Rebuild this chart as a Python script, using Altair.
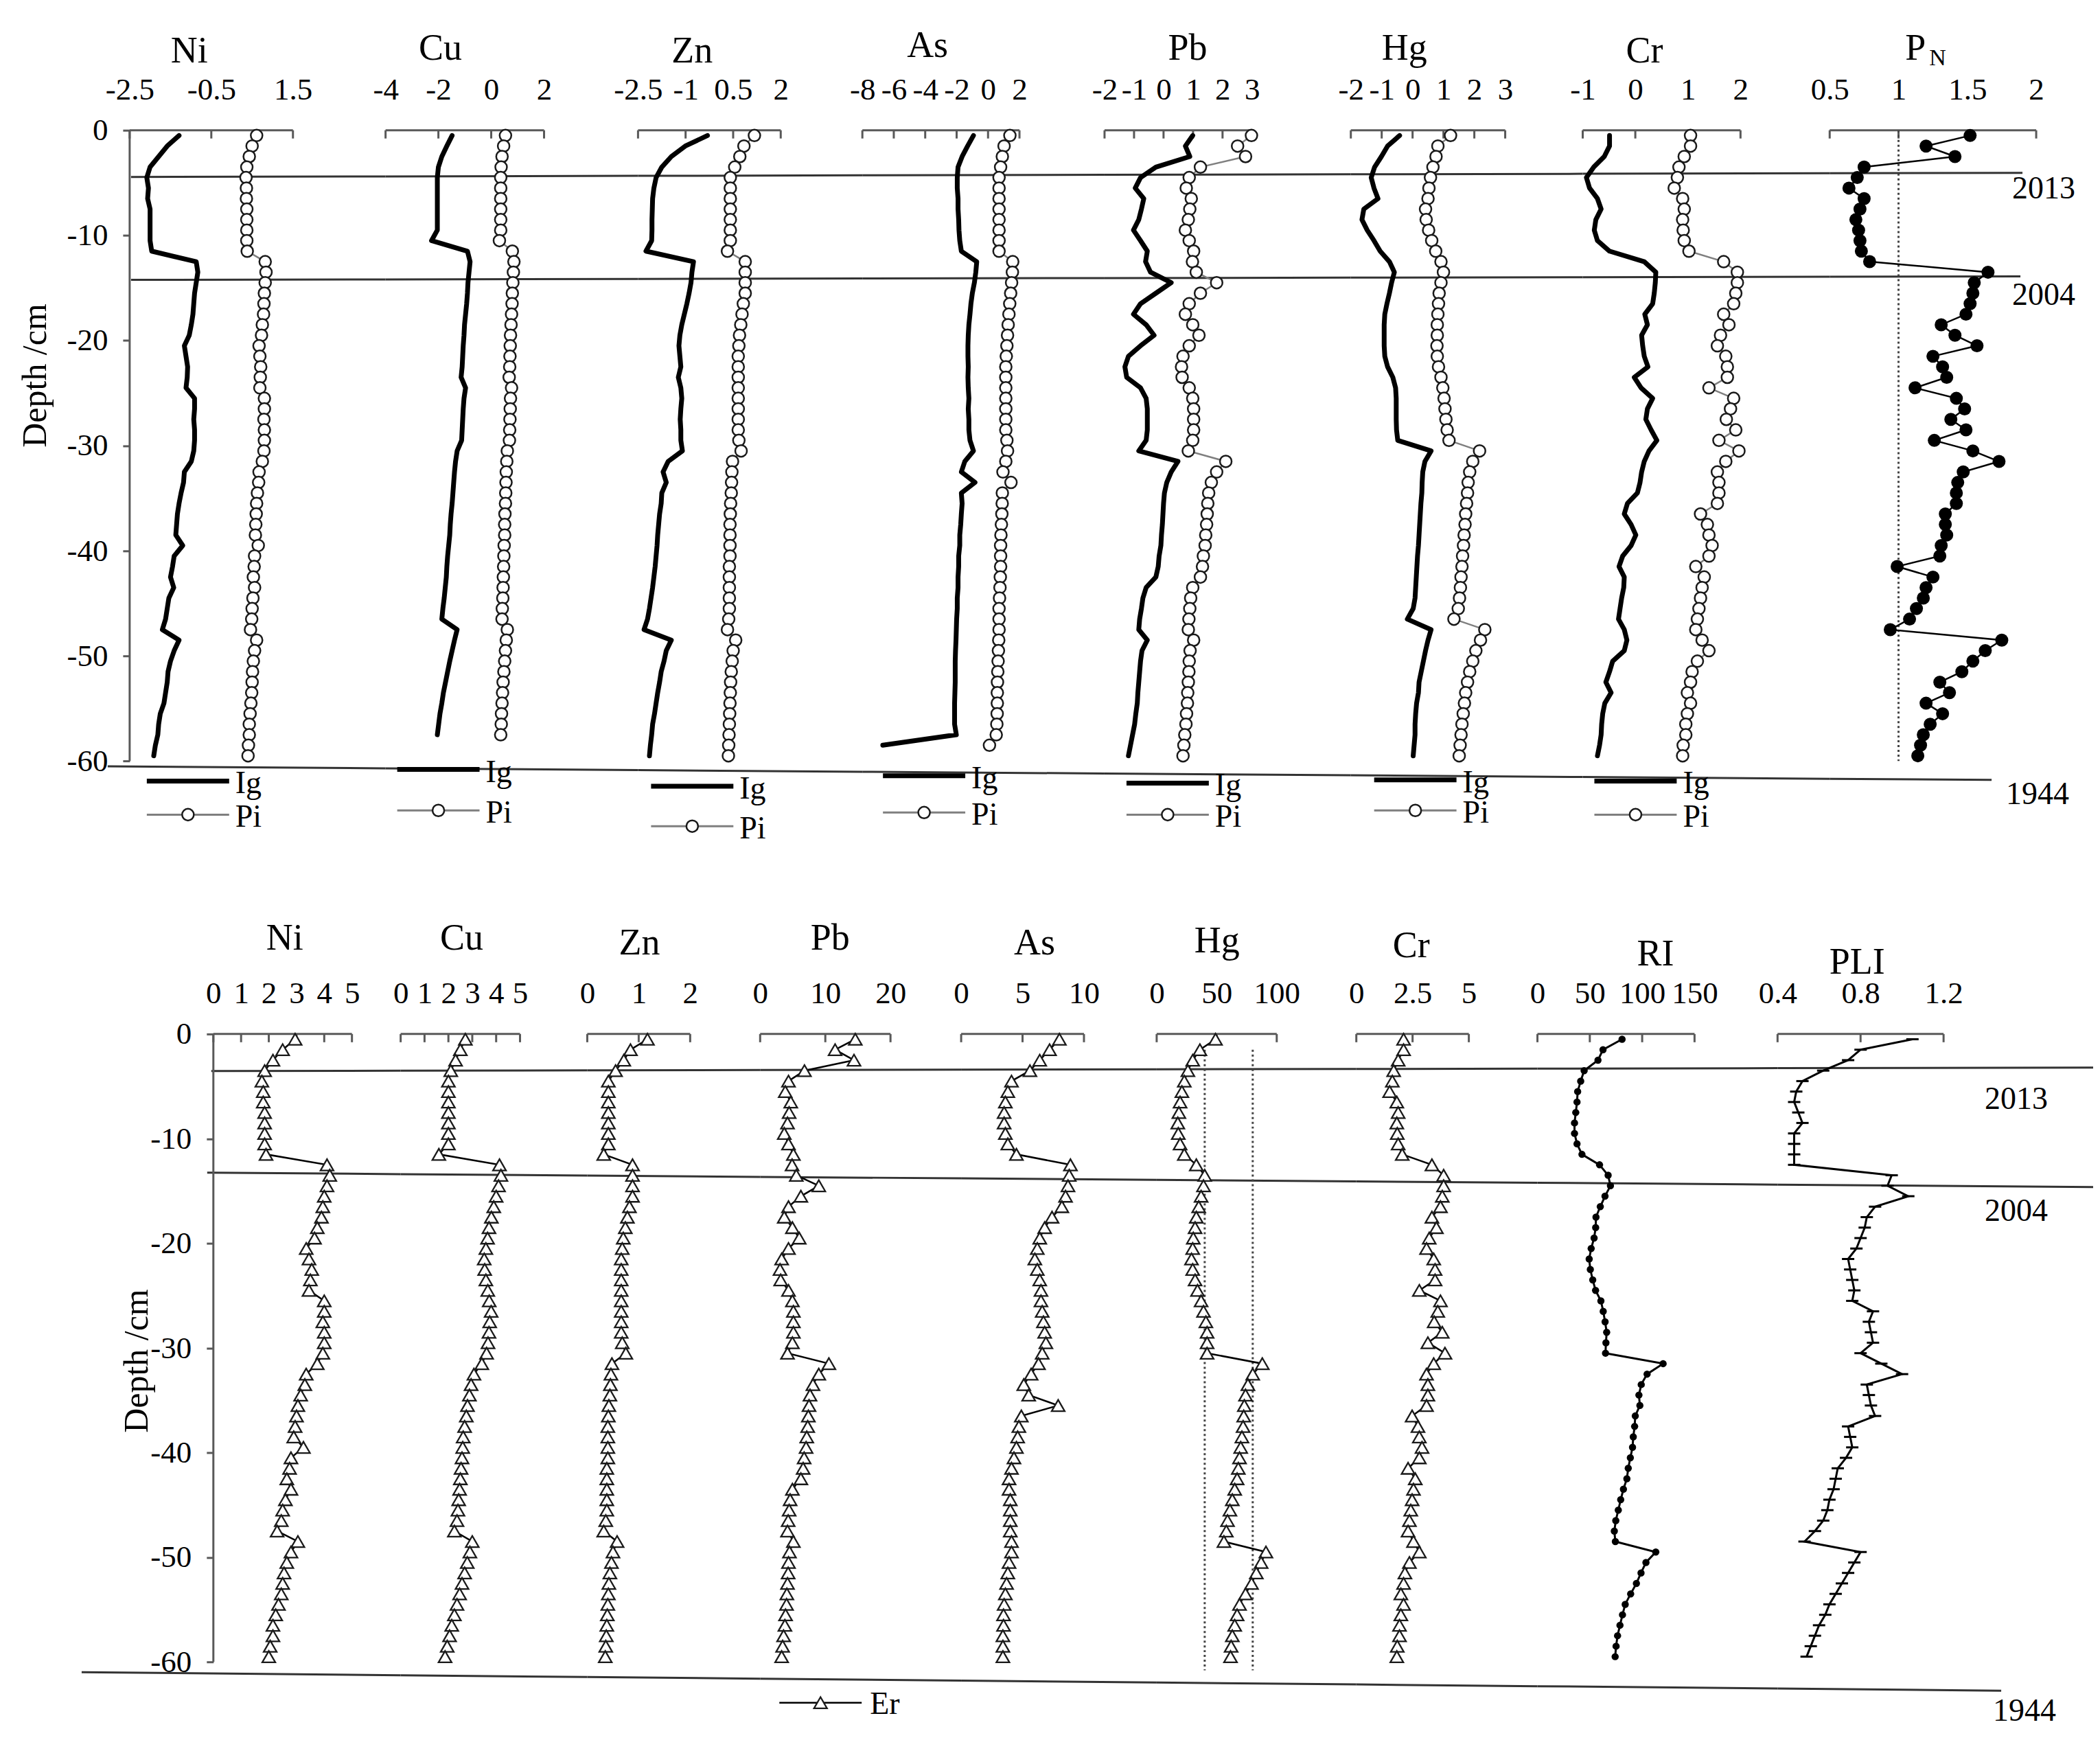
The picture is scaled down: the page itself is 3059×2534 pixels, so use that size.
import altair as alt
import pandas as pd

FONT = "Liberation Serif"
AXIS_COLOR = "#595959"
REF_COLOR = "#333333"
PI_LINE = "#7f7f7f"
MARK_STROKE = "#1a1a1a"

# ---------------- data: top row (Ig = geoaccumulation index, Pi = single pollution index) -------------
NI_IG = [-1.29, -1.58, -1.79, -2.00, -2.08, -2.04, -2.06, -2.00, -2.00, -2.00,
         -2.00, -1.96, -0.87, -0.83, -0.87, -0.91, -0.93, -0.95, -0.99, -1.04,
         -1.16, -1.12, -1.08, -1.09, -1.12, -0.91, -0.91, -0.93, -0.91, -0.91,
         -0.93, -0.99, -1.16, -1.18, -1.24, -1.29, -1.33, -1.35, -1.37, -1.20,
         -1.41, -1.45, -1.50, -1.42, -1.54, -1.58, -1.62, -1.70, -1.29, -1.41,
         -1.50, -1.56, -1.58, -1.62, -1.66, -1.75, -1.79, -1.81, -1.87, -1.91]
NI_PI = [0.61, 0.50, 0.43, 0.37, 0.35, 0.36, 0.36, 0.37, 0.37, 0.37,
         0.37, 0.38, 0.82, 0.84, 0.82, 0.80, 0.79, 0.78, 0.75, 0.73,
         0.67, 0.69, 0.71, 0.70, 0.69, 0.80, 0.80, 0.79, 0.80, 0.80,
         0.79, 0.75, 0.67, 0.66, 0.63, 0.61, 0.60, 0.59, 0.58, 0.65,
         0.56, 0.55, 0.53, 0.56, 0.52, 0.50, 0.49, 0.46, 0.61, 0.56,
         0.53, 0.51, 0.50, 0.49, 0.47, 0.45, 0.43, 0.43, 0.41, 0.40]
CU_IG = [-1.48, -1.68, -1.87, -2.00, -2.04, -2.04, -2.04, -2.04, -2.04, -2.04,
         -2.26, -0.90, -0.80, -0.84, -0.88, -0.90, -0.93, -0.97, -1.01, -1.03,
         -1.06, -1.08, -1.10, -1.14, -0.97, -1.03, -1.06, -1.08, -1.10, -1.12,
         -1.29, -1.35, -1.39, -1.42, -1.45, -1.48, -1.52, -1.55, -1.57, -1.61,
         -1.65, -1.68, -1.70, -1.74, -1.78, -1.83, -1.87, -1.29, -1.39, -1.48,
         -1.57, -1.65, -1.73, -1.81, -1.87, -1.94, -1.99, -2.04]
CU_PI = [0.54, 0.47, 0.41, 0.375, 0.36, 0.36, 0.36, 0.36, 0.36, 0.36,
         0.31, 0.80, 0.86, 0.84, 0.82, 0.80, 0.79, 0.77, 0.75, 0.73,
         0.72, 0.71, 0.70, 0.68, 0.77, 0.73, 0.72, 0.71, 0.70, 0.69,
         0.61, 0.59, 0.57, 0.56, 0.55, 0.54, 0.52, 0.51, 0.51, 0.49,
         0.48, 0.47, 0.46, 0.45, 0.44, 0.42, 0.41, 0.61, 0.57, 0.54,
         0.51, 0.48, 0.45, 0.43, 0.41, 0.39, 0.38, 0.36]
ZN_IG = [-0.31, -1.01, -1.45, -1.75, -1.93, -2.00, -2.04, -2.05, -2.06, -2.06,
         -2.07, -2.25, -0.75, -0.80, -0.83, -0.89, -0.96, -1.04, -1.12, -1.18,
         -1.21, -1.18, -1.15, -1.23, -1.15, -1.12, -1.15, -1.17, -1.15, -1.15,
         -1.10, -1.55, -1.71, -1.61, -1.75, -1.77, -1.82, -1.85, -1.88, -1.90,
         -1.93, -1.96, -2.00, -2.04, -2.09, -2.14, -2.20, -2.31, -1.45, -1.61,
         -1.68, -1.77, -1.82, -1.88, -1.93, -1.98, -2.04, -2.07, -2.11, -2.14]
ZN_PI = [1.17, 0.84, 0.71, 0.55, 0.41, 0.41, 0.41, 0.41, 0.41, 0.41,
         0.41, 0.32, 0.88, 0.88, 0.88, 0.88, 0.82, 0.78, 0.74, 0.70,
         0.68, 0.66, 0.66, 0.66, 0.66, 0.66, 0.66, 0.66, 0.66, 0.68,
         0.75, 0.48, 0.46, 0.45, 0.44, 0.42, 0.41, 0.40, 0.40, 0.40,
         0.40, 0.38, 0.38, 0.38, 0.38, 0.38, 0.36, 0.32, 0.58, 0.50,
         0.47, 0.44, 0.42, 0.41, 0.40, 0.39, 0.38, 0.37, 0.36, 0.35]
AS_IG = [-0.93, -1.30, -1.65, -1.91, -1.96, -1.96, -1.91, -1.91, -1.87, -1.85,
         -1.80, -1.70, -0.72, -0.78, -0.87, -1.00, -1.09, -1.15, -1.22, -1.26,
         -1.28, -1.28, -1.26, -1.28, -1.26, -1.22, -1.26, -1.22, -1.22, -1.15,
         -0.93, -1.48, -1.70, -0.83, -1.70, -1.65, -1.70, -1.74, -1.80, -1.80,
         -1.87, -1.87, -1.91, -1.91, -1.96, -1.96, -2.00, -2.02, -2.04, -2.07,
         -2.09, -2.09, -2.09, -2.11, -2.13, -2.13, -2.13, -2.02, -6.70]
AS_PI = [1.39, 1.02, 0.91, 0.80, 0.70, 0.70, 0.70, 0.70, 0.70, 0.70,
         0.70, 0.70, 1.57, 1.55, 1.50, 1.44, 1.38, 1.33, 1.28, 1.24,
         1.20, 1.16, 1.13, 1.13, 1.13, 1.13, 1.13, 1.13, 1.13, 1.20,
         1.24, 1.13, 0.95, 1.46, 0.91, 0.90, 0.88, 0.85, 0.82, 0.80,
         0.80, 0.80, 0.78, 0.76, 0.73, 0.70, 0.70, 0.70, 0.68, 0.66,
         0.64, 0.62, 0.60, 0.59, 0.59, 0.58, 0.56, 0.52, 0.09]
PB_IG = [0.99, 0.74, 0.89, -0.26, -0.78, -0.96, -0.67, -0.75, -0.84, -1.02,
         -0.78, -0.55, -0.61, -0.44, 0.26, -0.26, -0.78, -1.02, -0.59, -0.32,
         -0.78, -1.19, -1.31, -1.25, -0.78, -0.59, -0.55, -0.55, -0.55, -0.59,
         -0.84, 0.49, 0.26, 0.11, 0.03, 0.00, -0.02, -0.04, -0.07, -0.09,
         -0.15, -0.18, -0.26, -0.59, -0.70, -0.75, -0.81, -0.84, -0.55, -0.73,
         -0.78, -0.81, -0.84, -0.87, -0.89, -0.94, -0.98, -1.05, -1.12, -1.19]
PB_PI = [2.98, 2.51, 2.78, 1.25, 0.87, 0.77, 0.94, 0.89, 0.84, 0.74,
         0.87, 1.02, 0.98, 1.11, 1.80, 1.25, 0.87, 0.74, 0.99, 1.20,
         0.87, 0.66, 0.61, 0.63, 0.87, 0.99, 1.02, 1.02, 1.02, 0.99,
         0.84, 2.11, 1.80, 1.62, 1.53, 1.50, 1.48, 1.46, 1.43, 1.41,
         1.35, 1.32, 1.25, 0.99, 0.92, 0.89, 0.86, 0.84, 1.02, 0.90,
         0.87, 0.86, 0.84, 0.82, 0.81, 0.78, 0.76, 0.72, 0.69, 0.66]
HG_IG = [-0.42, -0.81, -1.01, -1.23, -1.34, -1.25, -1.12, -1.58, -1.64, -1.47,
         -1.25, -1.05, -0.75, -0.59, -0.68, -0.75, -0.83, -0.90, -0.92, -0.92,
         -0.92, -0.90, -0.81, -0.64, -0.55, -0.53, -0.53, -0.53, -0.52, -0.48,
         0.60, 0.40, 0.33, 0.31, 0.30, 0.27, 0.25, 0.23, 0.21, 0.19,
         0.16, 0.14, 0.12, 0.10, 0.08, 0.02, -0.17, 0.60, 0.50, 0.42,
         0.35, 0.28, 0.21, 0.19, 0.13, 0.10, 0.08, 0.08, 0.05, 0.02]
HG_PI = [1.23, 0.82, 0.76, 0.66, 0.58, 0.53, 0.50, 0.42, 0.44, 0.52,
         0.62, 0.75, 0.92, 1.00, 0.92, 0.86, 0.84, 0.82, 0.80, 0.80,
         0.79, 0.80, 0.84, 0.92, 0.98, 1.02, 1.05, 1.08, 1.12, 1.18,
         2.17, 1.95, 1.85, 1.80, 1.78, 1.75, 1.72, 1.70, 1.67, 1.65,
         1.62, 1.60, 1.57, 1.55, 1.52, 1.48, 1.34, 2.34, 2.20, 2.05,
         1.95, 1.85, 1.78, 1.72, 1.68, 1.64, 1.60, 1.57, 1.54, 1.51]
CR_IG = [-0.49, -0.49, -0.59, -0.79, -0.93, -0.87, -0.72, -0.65, -0.75, -0.78,
         -0.72, -0.49, 0.17, 0.39, 0.38, 0.36, 0.33, 0.18, 0.23, 0.12,
         0.14, 0.17, 0.24, -0.02, 0.11, 0.33, 0.23, 0.20, 0.30, 0.41,
         0.26, 0.17, 0.12, 0.09, 0.04, -0.15, -0.21, -0.08, 0.01, -0.08,
         -0.24, -0.31, -0.21, -0.22, -0.26, -0.29, -0.32, -0.21, -0.16, -0.21,
         -0.43, -0.49, -0.56, -0.46, -0.58, -0.62, -0.64, -0.65, -0.68, -0.72]
CR_PI = [1.05, 1.05, 0.93, 0.83, 0.80, 0.74, 0.90, 0.93, 0.90, 0.91,
         0.93, 1.02, 1.68, 1.94, 1.94, 1.91, 1.87, 1.68, 1.78, 1.62,
         1.56, 1.72, 1.75, 1.75, 1.40, 1.87, 1.81, 1.73, 1.91, 1.59,
         1.97, 1.72, 1.56, 1.59, 1.59, 1.56, 1.24, 1.37, 1.40, 1.46,
         1.40, 1.15, 1.31, 1.27, 1.24, 1.21, 1.18, 1.15, 1.27, 1.40,
         1.18, 1.08, 1.05, 0.99, 1.05, 0.99, 0.96, 0.96, 0.91, 0.90]
PN = [1.52, 1.20, 1.41, 0.75, 0.70, 0.64, 0.75, 0.72, 0.69, 0.71,
      0.72, 0.73, 0.79, 1.65, 1.55, 1.54, 1.52, 1.49, 1.31, 1.41,
      1.57, 1.25, 1.32, 1.35, 1.12, 1.42, 1.48, 1.38, 1.49, 1.26,
      1.54, 1.73, 1.47, 1.43, 1.42, 1.42, 1.34, 1.34, 1.35, 1.31,
      1.30, 0.99, 1.25, 1.20, 1.18, 1.13, 1.08, 0.94, 1.75, 1.63,
      1.54, 1.46, 1.30, 1.37, 1.20, 1.32, 1.23, 1.18, 1.16, 1.14]

# ---------------- data: bottom row (Er = potential ecological risk factor, RI, PLI) -------------
NI_ER = [2.95, 2.50, 2.15, 1.85, 1.75, 1.80, 1.80, 1.85, 1.85, 1.85,
         1.85, 1.90, 4.10, 4.20, 4.10, 4.00, 3.95, 3.90, 3.75, 3.65,
         3.35, 3.45, 3.55, 3.50, 3.45, 4.00, 4.00, 3.95, 4.00, 4.00,
         3.95, 3.75, 3.35, 3.30, 3.15, 3.05, 3.00, 2.95, 2.90, 3.25,
         2.80, 2.75, 2.65, 2.80, 2.60, 2.50, 2.45, 2.30, 3.05, 2.80,
         2.65, 2.55, 2.50, 2.45, 2.35, 2.25, 2.15, 2.15, 2.05, 2.00]
CU_ER = [2.71, 2.50, 2.30, 2.10, 2.00, 2.00, 2.00, 2.00, 2.00, 2.00,
         2.00, 1.60, 4.14, 4.20, 4.10, 4.00, 3.90, 3.80, 3.70, 3.64,
         3.57, 3.50, 3.52, 3.57, 3.65, 3.71, 3.79, 3.73, 3.70, 3.66,
         3.60, 3.40, 3.07, 2.95, 2.88, 2.80, 2.75, 2.68, 2.62, 2.60,
         2.57, 2.53, 2.50, 2.47, 2.43, 2.40, 2.36, 2.25, 3.00, 2.90,
         2.79, 2.68, 2.57, 2.47, 2.36, 2.25, 2.14, 2.05, 1.95, 1.86]
ZN_ER = [1.17, 0.84, 0.71, 0.55, 0.41, 0.41, 0.41, 0.41, 0.41, 0.41,
         0.41, 0.32, 0.88, 0.88, 0.88, 0.88, 0.82, 0.78, 0.74, 0.70,
         0.68, 0.66, 0.66, 0.66, 0.66, 0.66, 0.66, 0.66, 0.66, 0.68,
         0.75, 0.48, 0.46, 0.45, 0.44, 0.42, 0.41, 0.40, 0.40, 0.40,
         0.40, 0.38, 0.38, 0.38, 0.38, 0.38, 0.36, 0.32, 0.58, 0.50,
         0.47, 0.44, 0.42, 0.41, 0.40, 0.39, 0.38, 0.37, 0.36, 0.35]
PB_ER = [14.6, 11.5, 14.4, 6.8, 4.35, 3.85, 4.7, 4.45, 4.2, 3.7,
         4.35, 5.1, 4.9, 5.55, 9.0, 6.25, 4.35, 3.7, 4.95, 6.0,
         4.35, 3.3, 3.05, 3.15, 4.35, 4.95, 5.1, 5.1, 5.1, 4.95,
         4.2, 10.55, 9.0, 8.1, 7.65, 7.5, 7.4, 7.3, 7.15, 7.05,
         6.75, 6.6, 6.25, 4.95, 4.6, 4.45, 4.3, 4.2, 5.1, 4.5,
         4.35, 4.3, 4.2, 4.1, 4.05, 3.9, 3.8, 3.6, 3.45, 3.3]
AS_ER = [8.0, 7.2, 6.4, 5.6, 4.1, 3.8, 3.6, 3.5, 3.5, 3.6,
         3.8, 4.5, 8.9, 8.8, 8.7, 8.5, 8.2, 7.4, 6.8, 6.4,
         6.2, 6.0, 6.2, 6.4, 6.5, 6.5, 6.6, 6.7, 6.8, 6.9,
         6.6, 6.3, 5.7, 5.1, 5.5, 7.9, 4.9, 4.7, 4.6, 4.5,
         4.3, 4.1, 3.9, 3.9, 4.0, 4.0, 4.0, 4.0, 4.1, 4.1,
         3.9, 3.8, 3.7, 3.6, 3.5, 3.45, 3.45, 3.4, 3.4, 3.4]
HG_ER = [49, 36, 30, 26, 23, 21, 19.5, 18.5, 17.6, 18,
         19.5, 23, 33, 40, 39, 37, 35, 33, 32, 30.5,
         30, 29, 30, 32, 34, 37, 39, 41, 42, 42,
         42, 88, 80, 76, 74, 73, 72.5, 72, 71, 70,
         69, 68, 67, 65, 63, 61, 59, 58, 56, 91,
         87, 83, 79, 74, 69, 67, 65, 63, 62, 61.5]
CR_ER = [2.10, 2.10, 1.86, 1.66, 1.60, 1.48, 1.80, 1.86, 1.80, 1.82,
         1.86, 2.04, 3.36, 3.88, 3.88, 3.82, 3.74, 3.36, 3.56, 3.24,
         3.12, 3.44, 3.50, 3.50, 2.80, 3.74, 3.62, 3.46, 3.82, 3.18,
         3.94, 3.44, 3.12, 3.18, 3.18, 3.12, 2.48, 2.74, 2.80, 2.92,
         2.80, 2.30, 2.62, 2.54, 2.48, 2.42, 2.36, 2.30, 2.54, 2.80,
         2.36, 2.16, 2.10, 1.98, 2.10, 1.98, 1.92, 1.92, 1.82, 1.80]
RI = [80.8, 62.6, 57.8, 44.6, 41.3, 38.4, 37.8, 36.6, 35.4, 35.4,
      37.8, 42.5, 59.3, 67.5, 69.7, 64.5, 60.0, 55.9, 55.6, 54.1,
      51.3, 49.4, 50.5, 52.8, 55.5, 60.6, 62.8, 64.6, 66.1, 65.4,
      65.0, 120.0, 104.7, 99.1, 96.9, 97.8, 93.4, 92.8, 91.5, 90.8,
      88.7, 86.7, 85.4, 82.1, 79.5, 77.2, 74.8, 73.4, 74.4, 113.0,
      103.6, 98.9, 94.5, 89.0, 83.8, 81.2, 78.8, 76.5, 75.1, 74.2]
PLI = [1.05, 0.80, 0.74, 0.62, 0.52, 0.49, 0.48, 0.50, 0.52, 0.48,
       0.48, 0.48, 0.48, 0.95, 0.93, 1.03, 0.87, 0.83, 0.82, 0.80,
       0.78, 0.74, 0.75, 0.76, 0.77, 0.76, 0.86, 0.84, 0.85, 0.86,
       0.80, 0.90, 1.00, 0.83, 0.84, 0.85, 0.87, 0.74, 0.75, 0.76,
       0.73, 0.69, 0.68, 0.67, 0.65, 0.64, 0.62, 0.58, 0.53, 0.80,
       0.77, 0.74, 0.71, 0.68, 0.65, 0.63, 0.60, 0.58, 0.56, 0.54]

DEPTH_TICKS = [0, -10, -20, -30, -40, -50, -60]

# dated horizons: (label, x start px, x end px, depth at start, depth at end)
TOP_LINES = [("2013", 183, 2940, -4.44, -4.05), ("2004", 183, 2937, -14.23, -13.90),
             ("1944", 149, 2895, -60.5, -61.8)]
BOT_LINES = [("2013", 300, 3051, -3.54, -3.21), ("2004", 294, 3044, -13.25, -14.62),
             ("1944", 111, 2909, -60.98, -62.75)]
TOP_YEARS = [("2013", 2925, -6.46), ("2004", 2925, -16.58), ("1944", 2916, -64.1)]
BOT_YEARS = [("2013", 2885, -7.15), ("2004", 2885, -17.84), ("1944", 2897, -65.64)]

TOP = dict(height=1250, zero=181, ppc=15.32, ytx=-137, yty=538)
BOT = dict(height=1260, zero=248, ppc=15.25, ytx=-111, yty=724)

TOP_PANELS = [
    dict(title="Ni", slot=(0, 554), axis=(181, 419), ticks=[-2.5, -0.5, 1.5], tx=268, tdy=-99,
         leg=(25, -61.9, -65.1), series=[("ig", NI_IG), ("pi", NI_PI)]),
    dict(title="Cu", slot=(554, 922), axis=(554, 785), ticks=[-4, -2, 0, 2], tx=634, tdy=-103,
         leg=(17, -60.8, -64.7), series=[("ig", CU_IG), ("pi", CU_PI)]),
    dict(title="Zn", slot=(922, 1249), axis=(922, 1130), ticks=[-2.5, -1, 0.5, 2], tx=1001, tdy=-99,
         leg=(19, -62.4, -66.2), series=[("ig", ZN_IG), ("pi", ZN_PI)]),
    dict(title="As", slot=(1249, 1602), axis=(1249, 1478), ticks=[-8, -6, -4, -2, 0, 2], tx=1344, tdy=-107,
         leg=(30, -61.4, -64.9), series=[("ig", AS_IG), ("pi", AS_PI)]),
    dict(title="Pb", slot=(1602, 1961), axis=(1602, 1817), ticks=[-2, -1, 0, 1, 2, 3], tx=1723, tdy=-103,
         leg=(32, -62.1, -65.1), series=[("ig", PB_IG), ("pi", PB_PI)]),
    dict(title="Hg", slot=(1961, 2299), axis=(1961, 2186), ticks=[-2, -1, 0, 1, 2, 3], tx=2039, tdy=-103,
         leg=(34, -61.8, -64.7), series=[("ig", HG_IG), ("pi", HG_PI)]),
    dict(title="Cr", slot=(2299, 2659), axis=(2299, 2529), ticks=[-1, 0, 1, 2], tx=2389, tdy=-99,
         leg=(17, -61.9, -65.1), series=[("ig", CR_IG), ("pi", CR_PI)]),
    dict(title="P", sub="N", slot=(2659, 3043), axis=(2659, 2960), ticks=[0.5, 1, 1.5, 2], tx=2784, tdy=-103,
         dotted=([1], 0, -60), series=[("pn", PN)]),
]
BOT_PANELS = [
    dict(title="Ni", slot=(0, 576), axis=(303, 505), ticks=[0, 1, 2, 3, 4, 5], tx=407, tdy=-123,
         series=[("er", NI_ER)]),
    dict(title="Cu", slot=(576, 848), axis=(576, 750), ticks=[0, 1, 2, 3, 4, 5], tx=665, tdy=-123,
         series=[("er", CU_ER)]),
    dict(title="Zn", slot=(848, 1100), axis=(848, 998), ticks=[0, 1, 2], tx=924, tdy=-116,
         series=[("er", ZN_ER)]),
    dict(title="Pb", slot=(1100, 1393), axis=(1100, 1290), ticks=[0, 10, 20], tx=1202, tdy=-123,
         erleg=(28, -63.9), series=[("er", PB_ER)]),
    dict(title="As", slot=(1393, 1678), axis=(1393, 1572), ticks=[0, 5, 10], tx=1500, tdy=-116,
         series=[("er", AS_ER)]),
    dict(title="Hg", slot=(1678, 1969), axis=(1678, 1853), ticks=[0, 50, 100], tx=1766, tdy=-119,
         dotted=([40, 80], -1.5, -60.8), series=[("er", HG_ER)]),
    dict(title="Cr", slot=(1969, 2233), axis=(1969, 2133), ticks=[0, 2.5, 5], tx=2049, tdy=-112,
         series=[("er", CR_ER)]),
    dict(title="RI", slot=(2233, 2583), axis=(2233, 2462), ticks=[0, 50, 100, 150], tx=2405, tdy=-100,
         series=[("ri", RI)]),
    dict(title="PLI", slot=(2583, 3043), axis=(2583, 2825), ticks=[0.4, 0.8, 1.2], tx=2699, tdy=-88,
         series=[("pli", PLI)]),
]


def fmt(v):
    return str(int(v)) if float(v).is_integer() else str(v)


def lexpr(vals):
    e = "''"
    for v in reversed(vals):
        e = f"abs(datum.value - ({v})) < 1e-6 ? '{fmt(v)}' : {e}"
    return e


def sdf(vals):
    return pd.DataFrame({"x": vals, "y": [-(i + 0.5) for i in range(len(vals))],
                         "i": list(range(len(vals)))})


def build_panel(row, p, first=False, lines=(), years=()):
    s0, s1 = p["slot"]
    a0, a1 = p["axis"]
    ticks = p["ticks"]
    vmin, vmax = ticks[0], ticks[-1]
    ppu = (a1 - a0) / (vmax - vmin)
    lo = vmin - (a0 - s0) / ppu
    hi = lo + (s1 - s0) / ppu

    def v(px):
        return lo + (px - s0) / ppu

    ppc = row["ppc"]
    ymin = -(row["height"] - row["zero"]) / ppc
    ymax = row["zero"] / ppc
    xscale = alt.Scale(domain=[lo, hi], nice=False, zero=False)
    yscale = alt.Scale(domain=[ymin, ymax], nice=False, zero=False)
    # the top axis sits at depth 0, i.e. row["zero"] px below the panel top
    xaxis = alt.Axis(orient="top", offset=-row["zero"], values=ticks, labelExpr=lexpr(ticks),
                     domain=False, ticks=False, tickSize=0, grid=False, labelFont=FONT,
                     labelFontSize=45, labelColor="black", labelPadding=36, labelFlush=False,
                     labelOverlap=False, labelAngle=0)
    if first:
        yaxis = alt.Axis(orient="left", offset=-(a0 - s0), values=DEPTH_TICKS, labelExpr=lexpr(DEPTH_TICKS),
                         domain=False, ticks=True, tickSize=10, tickWidth=3, tickColor=AXIS_COLOR,
                         grid=False, labelFont=FONT, labelFontSize=45, labelColor="black",
                         labelPadding=22, labelFlush=False, labelOverlap=False,
                         title="Depth /cm", titleFont=FONT, titleFontSize=50, titleFontWeight="normal",
                         titleColor="black", titleAngle=270, titleAlign="center",
                         titleBaseline="middle", titleX=row["ytx"], titleY=row["yty"])
        ytitle = "Depth /cm"
    else:
        yaxis = None
        ytitle = ""

    def X(f="x"):
        return alt.X(f, type="quantitative", scale=xscale, axis=xaxis, title="")

    def Y(f="y"):
        return alt.Y(f, type="quantitative", scale=yscale, axis=yaxis, title=ytitle)

    layers = []
    # dated horizons
    recs = []
    for (_, xs, xe, dl, dr) in lines:
        a = max(xs, s0)
        b = min(xe, s1)
        if a < b:
            recs.append(dict(x=v(a), x2=v(b), y=dl + (dr - dl) * (a - xs) / (xe - xs),
                             y2=dl + (dr - dl) * (b - xs) / (xe - xs)))
    if recs:
        layers.append(alt.Chart(pd.DataFrame(recs)).mark_rule(color=REF_COLOR, strokeWidth=3)
                      .encode(x=X(), x2="x2", y=Y(), y2="y2"))
    # axis bracket
    tick_cm = 12 / ppc
    ax = [dict(x=vmin, x2=vmax, y=0.0, y2=0.0)] + [dict(x=t, x2=t, y=0.0, y2=-tick_cm) for t in ticks]
    if first:
        ax.append(dict(x=vmin, x2=vmin, y=0.0, y2=-60.0))
    layers.append(alt.Chart(pd.DataFrame(ax)).mark_rule(color=AXIS_COLOR, strokeWidth=3)
                  .encode(x=X(), x2="x2", y=Y(), y2="y2"))
    # dotted reference verticals
    if "dotted" in p:
        vals, d0, d1 = p["dotted"]
        layers.append(alt.Chart(pd.DataFrame([dict(x=t, y=d0, y2=d1) for t in vals]))
                      .mark_rule(color="#444444", strokeWidth=3, strokeDash=[3, 4])
                      .encode(x=X(), y=Y(), y2="y2"))
    # data series
    for kind, vals in p["series"]:
        ch = alt.Chart(sdf(vals))
        enc = dict(x=X(), y=Y(), order=alt.Order("i:Q"))
        if kind == "ig":
            layers.append(ch.mark_line(color="black", strokeWidth=7, strokeJoin="round",
                                       strokeCap="round").encode(**enc))
        elif kind == "pi":
            layers.append(ch.mark_line(color=PI_LINE, strokeWidth=2.5).encode(**enc))
            layers.append(ch.mark_point(shape="circle", filled=True, fill="white", stroke=MARK_STROKE,
                                        strokeWidth=2.5, size=290, opacity=1).encode(x=X(), y=Y()))
        elif kind == "pn":
            layers.append(ch.mark_line(color="black", strokeWidth=2.5).encode(**enc))
            layers.append(ch.mark_point(shape="circle", filled=True, color="black", size=361,
                                        opacity=1).encode(x=X(), y=Y()))
        elif kind == "er":
            layers.append(ch.mark_line(color="black", strokeWidth=2.5).encode(**enc))
            layers.append(ch.mark_point(shape="triangle-up", filled=True, fill="white",
                                        stroke=MARK_STROKE, strokeWidth=2.3, size=360,
                                        opacity=1).encode(x=X(), y=Y()))
        elif kind == "ri":
            layers.append(ch.mark_line(color="black", strokeWidth=3).encode(**enc))
            layers.append(ch.mark_point(shape="circle", filled=True, color="black", size=110,
                                        opacity=1).encode(x=X(), y=Y()))
        elif kind == "pli":
            layers.append(ch.mark_line(color="black", strokeWidth=3).encode(**enc))
            layers.append(ch.mark_point(shape="M-1,0L1,0", filled=False, stroke="black", strokeWidth=3,
                                        size=324, opacity=1).encode(x=X(), y=Y()))
    # legends (top row)
    if "leg" in p:
        off, dig, dpi = p["leg"]
        xa, xb = a0 + off, a0 + off + 120
        layers.append(alt.Chart(pd.DataFrame([dict(x=v(xa), x2=v(xb), y=dig)]))
                      .mark_rule(color="black", strokeWidth=7).encode(x=X(), x2="x2", y=Y()))
        layers.append(alt.Chart(pd.DataFrame([dict(x=v(xa), x2=v(xb), y=dpi)]))
                      .mark_rule(color=PI_LINE, strokeWidth=3).encode(x=X(), x2="x2", y=Y()))
        layers.append(alt.Chart(pd.DataFrame([dict(x=v((xa + xb) / 2), y=dpi)]))
                      .mark_point(shape="circle", filled=True, fill="white", stroke=MARK_STROKE,
                                  strokeWidth=2.5, size=290, opacity=1).encode(x=X(), y=Y()))
        layers.append(alt.Chart(pd.DataFrame([dict(x=v(xb + 9), y=dig, t="Ig"),
                                              dict(x=v(xb + 9), y=dpi, t="Pi")]))
                      .mark_text(font=FONT, fontSize=46, align="left", baseline="middle", dy=4,
                                 color="black").encode(x=X(), y=Y(), text="t:N"))
    if "erleg" in p:
        off, d = p["erleg"]
        xa, xb = a0 + off, a0 + off + 120
        layers.append(alt.Chart(pd.DataFrame([dict(x=v(xa), x2=v(xb), y=d)]))
                      .mark_rule(color="black", strokeWidth=2.5).encode(x=X(), x2="x2", y=Y()))
        layers.append(alt.Chart(pd.DataFrame([dict(x=v((xa + xb) / 2), y=d)]))
                      .mark_point(shape="triangle-up", filled=True, fill="white", stroke=MARK_STROKE,
                                  strokeWidth=2.3, size=360, opacity=1).encode(x=X(), y=Y()))
        layers.append(alt.Chart(pd.DataFrame([dict(x=v(xb + 12), y=d, t="Er")]))
                      .mark_text(font=FONT, fontSize=46, align="left", baseline="middle", dy=2,
                                 color="black").encode(x=X(), y=Y(), text="t:N"))
    # panel title
    layers.append(alt.Chart(pd.DataFrame([dict(x=v(p["tx"]), y=0.0, t=p["title"])]))
                  .mark_text(font=FONT, fontSize=54, align="center", baseline="alphabetic",
                             dy=p["tdy"], color="black").encode(x=X(), y=Y(), text="t:N"))
    if "sub" in p:
        layers.append(alt.Chart(pd.DataFrame([dict(x=v(p["tx"] + 20), y=0.0, t=p["sub"])]))
                      .mark_text(font=FONT, fontSize=34, align="left", baseline="alphabetic",
                                 dy=p["tdy"] + 8, color="black").encode(x=X(), y=Y(), text="t:N"))
    # year labels
    if years:
        layers.append(alt.Chart(pd.DataFrame([dict(x=v(px), y=d, t=lab) for lab, px, d in years]))
                      .mark_text(font=FONT, fontSize=46, align="left", baseline="alphabetic",
                                 color="black").encode(x=X(), y=Y(), text="t:N"))
    return alt.layer(*layers).properties(width=s1 - s0, height=row["height"])


top_row = alt.hconcat(*[
    build_panel(TOP, p, first=(i == 0), lines=TOP_LINES,
                years=TOP_YEARS if i == len(TOP_PANELS) - 1 else ())
    for i, p in enumerate(TOP_PANELS)], spacing=0, bounds="flush")
bot_row = alt.hconcat(*[
    build_panel(BOT, p, first=(i == 0), lines=BOT_LINES,
                years=BOT_YEARS if i == len(BOT_PANELS) - 1 else ())
    for i, p in enumerate(BOT_PANELS)], spacing=0, bounds="flush")

chart = (alt.vconcat(top_row, bot_row, spacing=0)
         .properties(padding=0)
         .configure(font=FONT)
         .configure_view(strokeWidth=0))

chart.save("out.html", embed_options={"renderer": "svg", "actions": False})
